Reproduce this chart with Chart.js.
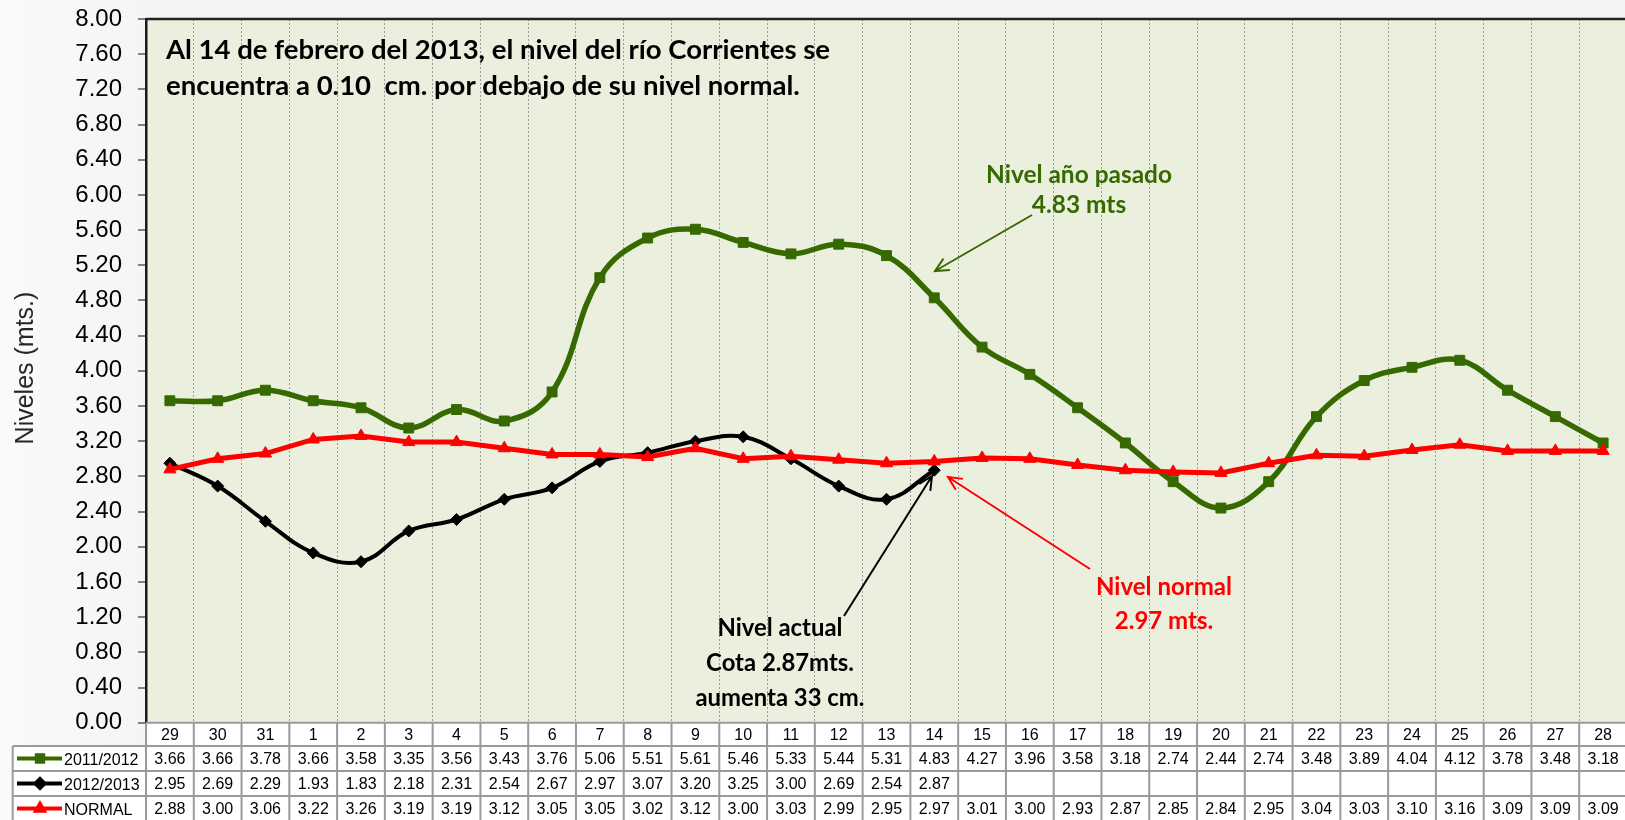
<!DOCTYPE html>
<html>
<head>
<meta charset="utf-8">
<script src="https://cdn.jsdelivr.net/npm/chart.js@4.4.0/dist/chart.umd.min.js"></script>
<style>
  html, body { margin: 0; padding: 0; overflow: hidden; width: 1625px; height: 820px; }
  body { background: linear-gradient(to right, #fafafa, #f3f3f3 12%, #f3f3f3); }
  canvas { display: block; }
</style>
</head>
<body>
<canvas id="grafico" width="1640" height="820"></canvas>
<script>
const dias = ["29", "30", "31", "1", "2", "3", "4", "5", "6", "7", "8", "9", "10", "11", "12", "13", "14",
              "15", "16", "17", "18", "19", "20", "21", "22", "23", "24", "25", "26", "27", "28"];

const nivel2011 = [3.66, 3.66, 3.78, 3.66, 3.58, 3.35, 3.56, 3.43, 3.76, 5.06, 5.51, 5.61, 5.46, 5.33, 5.44, 5.31, 4.83,
                   4.27, 3.96, 3.58, 3.18, 2.74, 2.44, 2.74, 3.48, 3.89, 4.04, 4.12, 3.78, 3.48, 3.18];

const nivel2012 = [2.95, 2.69, 2.29, 1.93, 1.83, 2.18, 2.31, 2.54, 2.67, 2.97, 3.07, 3.20, 3.25, 3.00, 2.69, 2.54, 2.87,
                   null, null, null, null, null, null, null, null, null, null, null, null, null, null];

const nivelNormal = [2.88, 3.00, 3.06, 3.22, 3.26, 3.19, 3.19, 3.12, 3.05, 3.05, 3.02, 3.12, 3.00, 3.03, 2.99, 2.95, 2.97,
                     3.01, 3.00, 2.93, 2.87, 2.85, 2.84, 2.95, 3.04, 3.03, 3.10, 3.16, 3.09, 3.09, 3.09];

const nombres = ["2011/2012", "2012/2013", "NORMAL"];
const colores = ["#366a00", "#000000", "#ff0000"];
const tituloY = "Niveles (mts.)";

const ctx = document.getElementById("grafico").getContext("2d");
const fuenteNum = "'Liberation Sans', Arial, sans-serif";
const fuenteNota = "Lato, 'Open Sans', sans-serif";

// fondo del area del grafico y borde superior
const fondoPlugin = {
    id: "fondo",
    beforeDraw(chart) {
        const a = chart.chartArea;
        const c = chart.ctx;
        c.save();
        c.fillStyle = "#ebefde";
        c.fillRect(a.left, a.top, a.right - a.left, a.bottom - a.top);
        c.restore();
    },
    afterDatasetsDraw(chart) {
        const a = chart.chartArea;
        const c = chart.ctx;
        c.save();
        c.strokeStyle = "#222";
        c.lineWidth = 2.5;
        c.beginPath();
        c.moveTo(a.left, a.top);
        c.lineTo(a.right, a.top);
        c.stroke();
        // titulo eje y
        c.translate(26, 368);
        c.rotate(-Math.PI / 2);
        c.fillStyle = "#262626";
        c.font = "25px " + fuenteNum;
        c.textAlign = "center";
        c.textBaseline = "middle";
        c.fillText(tituloY, 0, 0);
        c.restore();
    }
};

// tabla de datos bajo el grafico
const tablaPlugin = {
    id: "tabla",
    afterDraw(chart) {
        const c = chart.ctx;
        const a = chart.chartArea;
        const xs = chart.scales.x;
        const ancho = xs.getPixelForValue(1) - xs.getPixelForValue(0);
        const izq = 12.7;
        const y0 = a.bottom;
        const hCab = 23.3;
        const hFila = 25;
        const series = [nivel2011, nivel2012, nivelNormal];

        c.save();
        c.fillStyle = "#fff";
        c.fillRect(a.left, y0, a.right - a.left, hCab + 3 * hFila);
        c.fillRect(izq, y0 + hCab, a.left - izq, 3 * hFila);

        c.strokeStyle = "#9a9a9a";
        c.lineWidth = 2;
        c.beginPath();
        c.moveTo(a.left, y0); c.lineTo(a.right, y0);
        for (let i = 1; i <= 3; i++) {
            const y = y0 + hCab + (i - 1) * hFila;
            c.moveTo(izq, y); c.lineTo(a.right, y);
        }
        c.moveTo(izq, y0 + hCab + 3 * hFila); c.lineTo(a.right, y0 + hCab + 3 * hFila);
        c.moveTo(izq, y0 + hCab); c.lineTo(izq, y0 + hCab + 3 * hFila);
        for (let i = 0; i <= dias.length; i++) {
            const x = a.left + i * ancho;
            c.moveTo(x, y0); c.lineTo(x, y0 + hCab + 3 * hFila);
        }
        c.stroke();

        c.fillStyle = "#000";
        c.font = "16px " + fuenteNum;
        c.textAlign = "center";
        c.textBaseline = "alphabetic";
        dias.forEach((d, i) => {
            const x = xs.getPixelForValue(i);
            c.fillText(d, x, y0 + 17.5);
            series.forEach((s, j) => {
                if (s[i] !== null) c.fillText(s[i].toFixed(2), x, y0 + hCab + j * hFila + 18);
            });
        });

        // leyenda
        c.textAlign = "left";
        const estilos = ["rect", "rectRot", "triangle"];
        nombres.forEach((n, j) => {
            const yc = y0 + hCab + j * hFila + hFila / 2;
            c.strokeStyle = colores[j];
            c.lineWidth = 4;
            c.beginPath();
            c.moveTo(17, yc); c.lineTo(62, yc);
            c.stroke();
            c.fillStyle = colores[j];
            Chart.helpers.drawPoint(c, { pointStyle: estilos[j], radius: 4.5, borderWidth: 1 }, 40, yc);
            c.fillStyle = "#000";
            c.fillText(n, 64, yc + 6);
        });
        c.restore();
    }
};

function flecha(c, x1, y1, x2, y2, color) {
    const ang = Math.atan2(y2 - y1, x2 - x1);
    const largo = 15;
    c.strokeStyle = color;
    c.lineWidth = 2;
    c.beginPath();
    c.moveTo(x1, y1); c.lineTo(x2, y2);
    c.moveTo(x2 - largo * Math.cos(ang - 0.45), y2 - largo * Math.sin(ang - 0.45));
    c.lineTo(x2, y2);
    c.lineTo(x2 - largo * Math.cos(ang + 0.45), y2 - largo * Math.sin(ang + 0.45));
    c.stroke();
}

// ajusta el tamaño de letra para que la linea mas ancha ocupe el ancho dado
function bloque(c, lineas, xc, yBase, salto, anchoObjetivo, color, alinear) {
    c.font = "bold 20px " + fuenteNota;
    const mayor = Math.max(...lineas.map(t => c.measureText(t).width));
    const tam = 20 * anchoObjetivo / mayor;
    c.font = "bold " + tam.toFixed(2) + "px " + fuenteNota;
    c.fillStyle = color;
    c.textAlign = alinear;
    c.textBaseline = "alphabetic";
    lineas.forEach((t, i) => c.fillText(t, xc, yBase + i * salto));
}

const notasPlugin = {
    id: "notas",
    afterDraw(chart) {
        const c = chart.ctx;
        c.save();
        bloque(c, ["Al 14 de febrero del 2013, el nivel del río Corrientes se",
                   "encuentra a 0.10  cm. por debajo de su nivel normal."], 166, 59, 36, 664, "#000", "left");
        bloque(c, ["Nivel año pasado", "4.83 mts"], 1079, 183, 30, 186, "#366a00", "center");
        bloque(c, ["Nivel actual", "Cota 2.87mts.", "aumenta 33 cm."], 780, 636, 35, 169, "#000", "center");
        bloque(c, ["Nivel normal", "2.97 mts."], 1164, 595, 34, 136, "#ff0000", "center");
        flecha(c, 1032, 215, 935, 271, "#366a00");
        flecha(c, 844, 616, 932, 476, "#000");
        flecha(c, 1090, 569, 948, 477, "#ff0000");
        c.restore();
    }
};

new Chart(ctx, {
    type: "line",
    data: {
        labels: dias,
        datasets: [
            {
                label: nombres[0],
                data: nivel2011,
                borderColor: colores[0],
                backgroundColor: colores[0],
                borderWidth: 5.5,
                pointStyle: "rect",
                pointRadius: 7,
                pointBorderWidth: 1,
                tension: 0.4,
                order: 2
            },
            {
                label: nombres[1],
                data: nivel2012,
                borderColor: colores[1],
                backgroundColor: colores[1],
                borderWidth: 4,
                pointStyle: "rectRot",
                pointRadius: 6,
                pointBorderWidth: 1,
                tension: 0.4,
                spanGaps: false,
                order: 1
            },
            {
                label: nombres[2],
                data: nivelNormal,
                borderColor: colores[2],
                backgroundColor: colores[2],
                borderWidth: 5,
                pointStyle: "triangle",
                pointRadius: 7,
                pointBorderWidth: 1,
                tension: 0,
                order: 0
            }
        ]
    },
    options: {
        responsive: false,
        animation: false,
        layout: { padding: { left: 0, top: 19, right: 13, bottom: 97.3 } },
        plugins: {
            legend: { display: false },
            tooltip: { enabled: false }
        },
        scales: {
            x: {
                offset: true,
                grid: { offset: true, color: "#9a9a9a", lineWidth: 1, drawTicks: false },
                border: { display: false, dash: [2, 2] },
                ticks: { display: false },
                afterFit(scale) { scale.height = 0; }
            },
            y: {
                min: 0,
                max: 8,
                ticks: {
                    stepSize: 0.4,
                    padding: 16,
                    color: "#000",
                    font: { size: 24, family: fuenteNum },
                    callback: v => v.toFixed(2)
                },
                grid: { drawOnChartArea: false, drawTicks: true, tickLength: 8, color: "#808080", lineWidth: 2 },
                border: { display: true, color: "#1a1a1a", width: 2.5 },
                afterFit(scale) {
                    scale.width = 146;
                    scale.paddingTop = 0;
                    scale.paddingBottom = 0;
                }
            }
        }
    },
    plugins: [fondoPlugin, tablaPlugin, notasPlugin]
});
</script>
</body>
</html>
